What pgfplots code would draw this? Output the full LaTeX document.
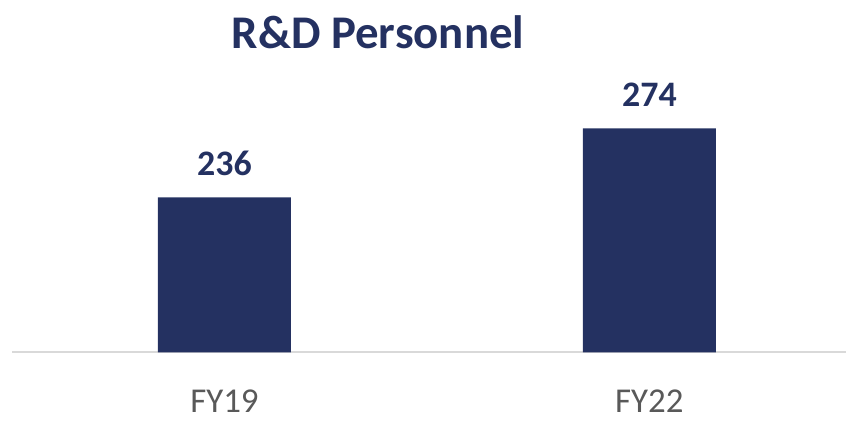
\documentclass[border=0pt]{standalone}
\usepackage{pgfplots}
\pgfplotsset{compat=1.18}
\usepackage{fontspec}
\setmainfont{Carlito}
\definecolor{navy}{HTML}{243161}
\definecolor{tickgray}{HTML}{595959}
\definecolor{axgray}{HTML}{D9D9D9}
\begin{document}
\begin{tikzpicture}
\useasboundingbox (0,0) rectangle (846bp,425bp);
\begin{axis}[
  at={(12bp,72.5bp)}, anchor=south west,
  scale only axis,
  width=833.9bp, height=352.5bp,
  xmin=-0.5, xmax=1.4624,
  ymin=150.53, ymax=344.66,
  axis y line=none,
  axis x line*=bottom,
  x axis line style={draw=axgray, line width=2bp},
  xtick={0,1}, xticklabels={FY19,FY22},
  major tick length=0pt,
  xticklabel style={anchor=base, yshift=-60.2bp, text=tickgray, font=\fontsize{35}{40}\selectfont},
  ybar, bar width=133bp, bar shift=0pt,
  clip=false,
  nodes near coords,
  point meta=explicit symbolic,
  every node near coord/.append style={anchor=base, yshift=21.6bp, text=navy, font=\bfseries\fontsize{36}{40}\selectfont},
]
\addplot[fill=navy, draw=none] coordinates {(0,236) [236] (1,274) [274]};
\end{axis}
\node[anchor=base, font=\bfseries\fontsize{47}{52}\selectfont, text=navy] at (378bp, 376.7bp) {R\&D Personnel};
\end{tikzpicture}
\end{document}
